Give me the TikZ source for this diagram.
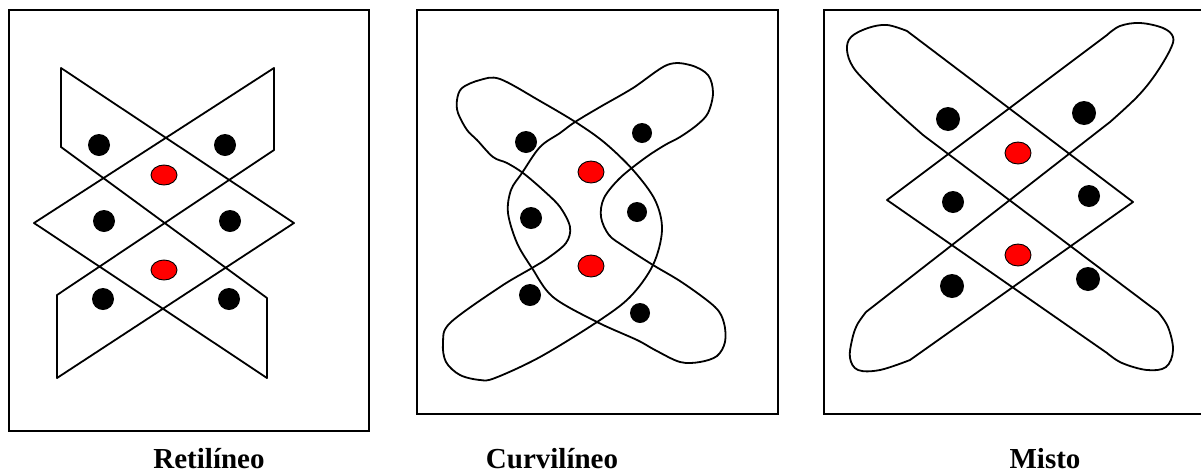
\documentclass[tikz,border=0pt]{standalone}
\usepackage{fontspec}
\setmainfont{Liberation Serif}
\begin{document}
\begin{tikzpicture}[x=1pt,y=-1pt,
  frame/.style={line width=2.1pt},
  figline/.style={line width=1.8pt, line join=round, line cap=round},
  bdot/.style={fill=black},
  rdot/.style={fill=red, draw=black, line width=0.9pt},
  lab/.style={font=\bfseries\fontsize{29}{29}\selectfont, anchor=base, inner sep=0pt}]
\useasboundingbox (0,0) rectangle (1201,472);
% ---------- Panel 1: Retilineo ----------
\draw[frame] (9,10) rectangle (369,431);
\draw[figline] (61,68) -- (294,223) -- (57,378) -- (57,295) -- (274,150) -- (274,68)
  -- (34,223) -- (267,378) -- (267,298) -- (61,147) -- cycle;
\fill[bdot] (99,145) circle (11pt);
\fill[bdot] (225,145) circle (11pt);
\fill[bdot] (104,221) circle (11pt);
\fill[bdot] (230,221) circle (11pt);
\fill[bdot] (103,299) circle (11pt);
\fill[bdot] (229,299) circle (11pt);
\draw[rdot] (164,175) ellipse [x radius=13pt, y radius=10pt];
\draw[rdot] (164,270) ellipse [x radius=13pt, y radius=10pt];
% ---------- Panel 2: Curvilineo ----------
\draw[frame] (417,10) rectangle (778,414);
\draw[figline] plot[smooth cycle, tension=0.55] coordinates {
  (500,79) (480,80) (462,88) (457,100) (458,113) (467,130) (477,140) (493,157)
  (507,163) (523,173) (543,190) (560,207) (570,227) (566,243) (548,258) (532,268)
  (500,287) (450,323) (443,343) (446,362) (460,375) (480,380) (495,378)
  (540,357) (597,322) (630,297) (653,265) (662,230) (655,200) (633,170)
  (605,143) (577,123) (540,101)};
\draw[figline] plot[smooth cycle, tension=0.55] coordinates {
  (667,65) (690,65) (708,75) (713,93) (708,113) (697,125) (680,137) (665,145)
  (645,158) (620,178) (604,198) (601,217) (609,235) (625,247) (653,265)
  (683,283) (715,307) (724,323) (725,342) (717,356) (700,362) (680,362)
  (655,350) (637,340) (597,322) (553,297) (532,268) (517,243) (508,213)
  (511,190) (522,173) (540,147) (560,133) (575,122) (600,107) (633,88)};
\fill[bdot] (526,142) circle (11pt);
\fill[bdot] (642,133) circle (10pt);
\fill[bdot] (531,218) circle (11pt);
\fill[bdot] (637,212) circle (10pt);
\fill[bdot] (530,295) circle (11pt);
\fill[bdot] (640,313) circle (10pt);
\draw[rdot] (591,172) ellipse [x radius=13pt, y radius=11pt];
\draw[rdot] (591,266) ellipse [x radius=13pt, y radius=11pt];
% ---------- Panel 3: Misto ----------
\draw[frame] (824,10) rectangle (1206,414);
\draw[figline] (907,31) -- (1133,202) -- (910,360)
  -- plot[smooth, tension=0.6] coordinates {(910,360) (880,370) (858,370) (850,358) (852,340) (857,325) (866,312)}
  -- (1110,122)
  -- plot[smooth, tension=0.6] coordinates {(1110,122) (1137,97) (1155,75) (1170,50) (1173,37) (1163,28) (1140,23) (1120,26) (1107,35)}
  -- (887,200) -- (1107,353)
  -- plot[smooth, tension=0.6] coordinates {(1107,353) (1122,363) (1147,370) (1166,367) (1173,350) (1168,327) (1158,312)}
  -- (923,135)
  -- plot[smooth, tension=0.6] coordinates {(923,135) (895,110) (870,86) (853,67) (847,50) (851,37) (868,28) (887,25) (907,31)};
\fill[bdot] (948,119) circle (12pt);
\fill[bdot] (1084,113) circle (12pt);
\fill[bdot] (953,202) circle (11pt);
\fill[bdot] (1089,196) circle (11pt);
\fill[bdot] (952,286) circle (12pt);
\fill[bdot] (1088,279) circle (12pt);
\draw[rdot] (1018,153) ellipse [x radius=13pt, y radius=11pt];
\draw[rdot] (1018,255) ellipse [x radius=13pt, y radius=11pt];
% ---------- Labels ----------
\node[lab] (l1) at (209,468) {Retilíneo};
\node[lab] (l2) at (552,468) {Curvilíneo};
\node[lab] (l3) at (1045,468) {Misto};
\end{tikzpicture}
\end{document}
